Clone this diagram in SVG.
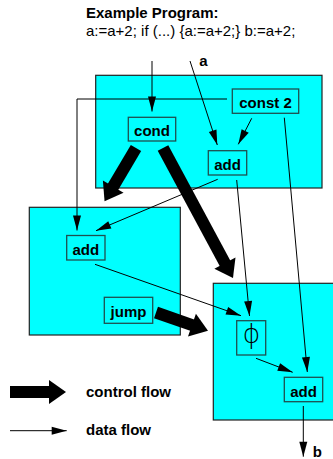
<svg xmlns="http://www.w3.org/2000/svg" width="333" height="459" viewBox="0 0 333 459">
<defs>
<style>
.blk{fill:#00ffff;stroke:#222;stroke-width:1.2}
.nd{fill:#00ffff;stroke:#1f4f4f;stroke-width:1.3}
.t{font-family:"Liberation Sans",Arial,sans-serif;font-size:15px;font-weight:bold;fill:#000}
.lbl{text-anchor:middle}
.d{fill:none;stroke:#000;stroke-width:1;marker-end:url(#dh)}
.c{fill:none;stroke:#000;stroke-width:12;marker-end:url(#ch)}
</style>
<marker id="dh" markerUnits="userSpaceOnUse" markerWidth="16" markerHeight="9" refX="15" refY="4" orient="auto" overflow="visible">
<path d="M0,0 L15,4 L0,8 z" fill="#000"/>
</marker>
<marker id="ch" markerUnits="userSpaceOnUse" markerWidth="18" markerHeight="24" refX="1" refY="12" orient="auto" overflow="visible">
<path d="M0,0 L17,12 L0,24 z" fill="#000"/>
</marker>
</defs>
<rect width="333" height="459" fill="#fff"/>
<g id="title">
<text class="t" x="86" y="18">Example Program:</text>
<text class="t" x="86" y="36" style="font-weight:normal">a:=a+2; if (...) {a:=a+2;} b:=a+2;</text>
</g>
<g id="block1"><rect class="blk" x="95.7" y="75.3" width="226.3" height="112.7"/></g>
<g id="block2"><rect class="blk" x="29.3" y="207.3" width="151" height="127.7"/></g>
<g id="block3"><rect class="blk" x="213.3" y="283.3" width="130" height="136.7"/></g>
<g id="const2"><rect class="nd" x="232.3" y="89" width="66.4" height="24.3"/><text class="t lbl" x="265.5" y="108.3">const 2</text></g>
<g id="cond"><rect class="nd" x="128.3" y="117.3" width="47.4" height="23.7"/><text class="t lbl" x="152" y="136">cond</text></g>
<g id="add1"><rect class="nd" x="208.3" y="150.7" width="38.4" height="24.3"/><text class="t lbl" x="227.5" y="170">add</text></g>
<g id="add2"><rect class="nd" x="66.7" y="235.5" width="38.3" height="24.5"/><text class="t lbl" x="85.8" y="255">add</text></g>
<g id="jump"><rect class="nd" x="104.3" y="297.3" width="48.4" height="26"/><text class="t lbl" x="128.5" y="316.5">jump</text></g>
<g id="phi"><rect class="nd" x="236.7" y="320.7" width="29" height="34.3"/><text x="251.3" y="343" text-anchor="middle" style="font-family:'DejaVu Sans',sans-serif;font-size:27px;font-weight:200">ϕ</text></g>
<g id="add3"><rect class="nd" x="284.3" y="377.3" width="38.4" height="24.4"/><text class="t lbl" x="303.5" y="396.5">add</text></g>
<g id="connectors">
<path class="d" d="M152,61 L152,111.5"/>
<path class="d" d="M190,61 L217.3,145"/>
<path class="d" d="M251.7,118.3 L238.3,144.3"/>
<path class="d" d="M227,99 L77,99 L77,230.5"/>
<path class="d" d="M284.3,117.7 L307.3,372"/>
<path class="d" d="M217.7,179.3 L96,230.7"/>
<path class="d" d="M236.7,180 L249.5,316"/>
<path class="d" d="M95,264.3 L241,315.7"/>
<path class="d" d="M256,358.3 L292.7,372.3"/>
<path class="d" d="M303.3,406 L303.3,456.7"/>
<path class="c" d="M136,148 L112.7,187.4"/>
<path class="c" d="M163,148 L225.4,264"/>
<path class="c" d="M156,312.5 L192.9,325.4"/>
</g>
<text class="t" x="199.3" y="65.7">a</text>
<text class="t" x="312.7" y="456.5">b</text>
<g id="legend">
<path class="c" d="M10,392 L50,392"/>
<text class="t" x="86" y="397">control flow</text>
<path class="d" d="M10,430.7 L66.7,430.7"/>
<text class="t" x="86" y="435">data flow</text>
</g>
</svg>
